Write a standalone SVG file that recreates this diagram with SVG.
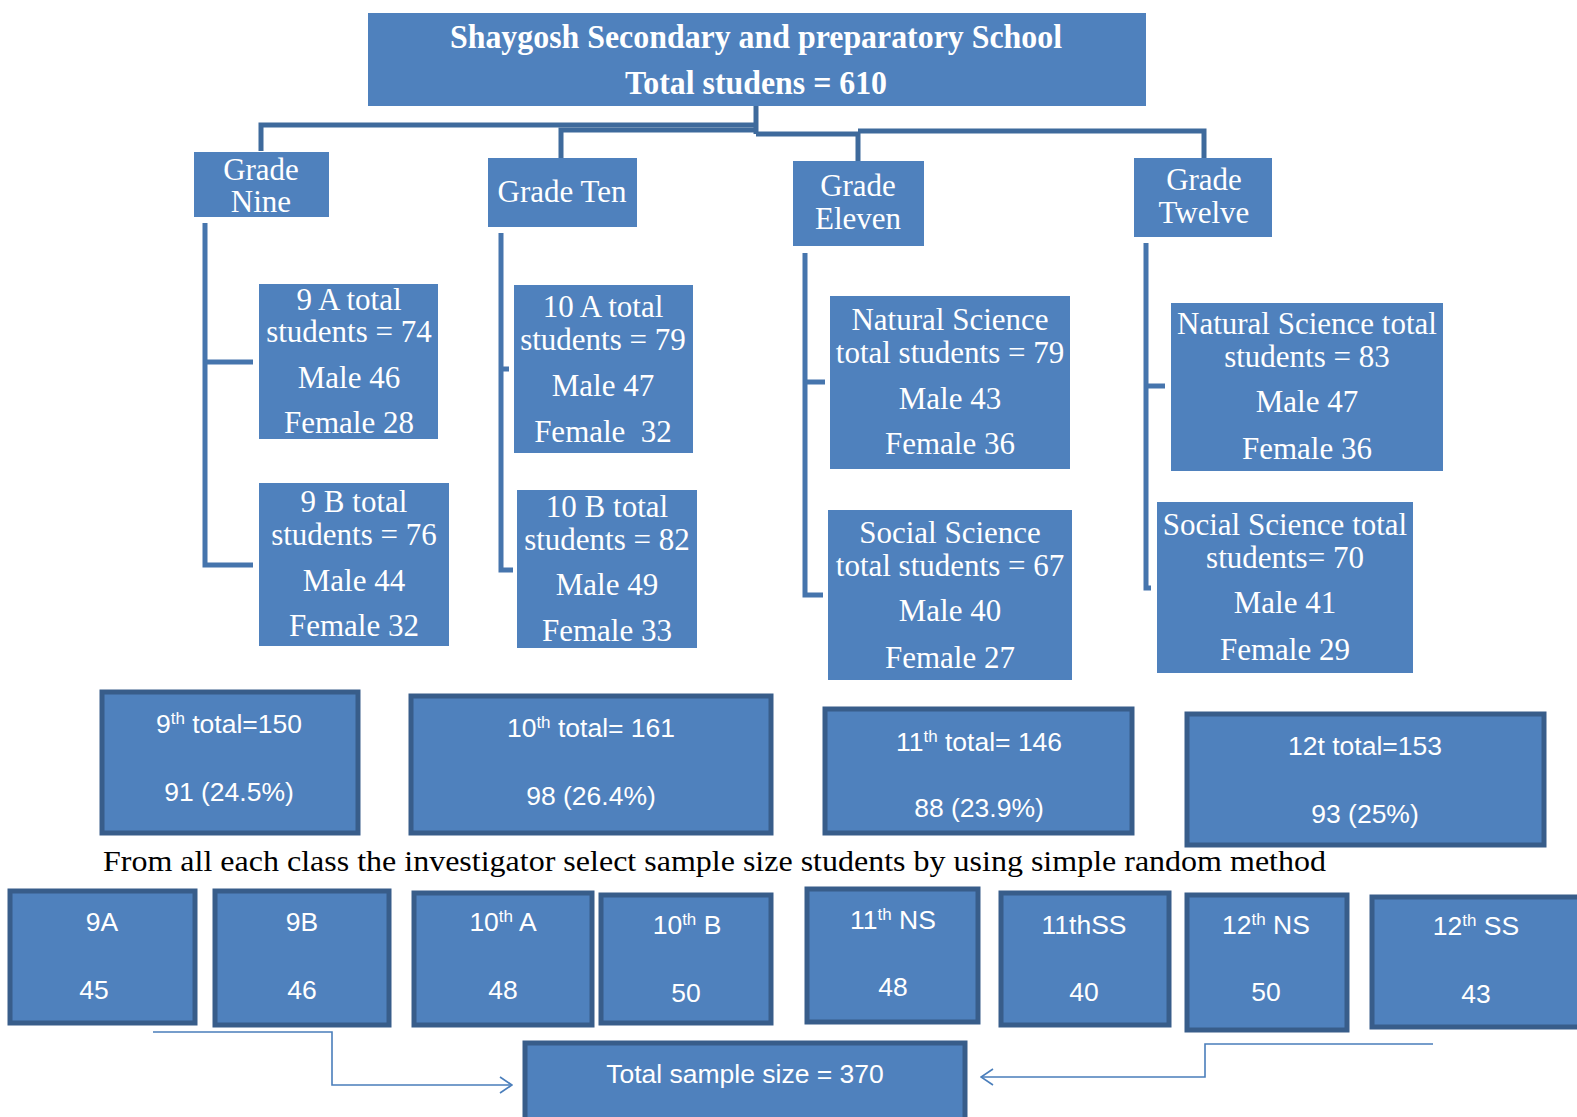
<svg xmlns="http://www.w3.org/2000/svg" width="1577" height="1117" viewBox="0 0 1577 1117">
<style>
.box{fill:#4f81bd;}
.bbox{fill:#4f81bd;stroke:#385d8a;stroke-width:5;}
.ser{font-family:"Liberation Serif","Times New Roman",serif;fill:#fff;font-size:31px;text-anchor:middle;}
.ttl{font-family:"Liberation Serif","Times New Roman",serif;fill:#fff;font-size:33px;font-weight:bold;text-anchor:middle;}
.san{font-family:"Liberation Sans",Arial,sans-serif;fill:#fff;font-size:26.5px;text-anchor:middle;}
.sup{font-size:17px;}
.conn{fill:none;stroke:#3e6a9c;stroke-width:5;}
.brk{fill:none;stroke:#4675ad;stroke-width:5;}
.arr{fill:none;stroke:#4a7ebb;stroke-width:1.6;}
.note{font-family:"Liberation Serif","Times New Roman",serif;fill:#000;font-size:30px;}
</style>
<defs>
<marker id="open" markerWidth="14" markerHeight="18" refX="13" refY="9" orient="auto" markerUnits="userSpaceOnUse">
<path d="M1,1 L13,9 L1,17" fill="none" stroke="#4a7ebb" stroke-width="1.6"/>
</marker>
</defs>
<rect width="1577" height="1117" fill="#fff"/>

<g id="connectors">
<path class="conn" d="M756,106 V134"/>
<path class="conn" d="M261,151 V125 H756"/>
<path class="conn" d="M561,158 V130 H756"/>
<path class="conn" d="M756,134 H858 V161"/>
<path class="conn" d="M858,131 H1204 V158"/>
<path class="brk" d="M253,362 H205 M205,223 V565 H253"/>
<path class="brk" d="M509,369 H501 M501,233 V570 H513"/>
<path class="brk" d="M825,382 H805 M805,253 V595 H823"/>
<path class="brk" d="M1165,386 H1146 M1146,243 V588 H1151"/>
<path class="arr" d="M153,1032 H332 V1085 H512" marker-end="url(#open)"/>
<path class="arr" d="M1433,1044 H1205 V1077 H981" marker-end="url(#open)"/>
</g>

<g id="school">
<rect class="box" x="368" y="13" width="778" height="93"/>
<text class="ttl" x="756" y="48" textLength="612" lengthAdjust="spacingAndGlyphs">Shaygosh Secondary and preparatory School</text>
<text class="ttl" x="756" y="94" textLength="262" lengthAdjust="spacingAndGlyphs">Total studens = 610</text>
</g>

<g id="grade-nine">
<rect class="box" x="194" y="152" width="135" height="65"/>
<text class="ser" x="261" y="180">Grade</text>
<text class="ser" x="261" y="212">Nine</text>
</g>
<g id="grade-ten">
<rect class="box" x="488" y="158" width="149" height="69"/>
<text class="ser" x="562" y="202">Grade Ten</text>
</g>
<g id="grade-eleven">
<rect class="box" x="793" y="161" width="131" height="85"/>
<text class="ser" x="858" y="196">Grade</text>
<text class="ser" x="858" y="229">Eleven</text>
</g>
<g id="grade-twelve">
<rect class="box" x="1134" y="158" width="138" height="79"/>
<text class="ser" x="1204" y="190">Grade</text>
<text class="ser" x="1204" y="223">Twelve</text>
</g>

<g id="class-9a">
<rect class="box" x="259" y="284" width="179" height="155"/>
<text class="ser" x="349" y="310">9 A total</text>
<text class="ser" x="349" y="342">students = 74</text>
<text class="ser" x="349" y="388">Male 46</text>
<text class="ser" x="349" y="433">Female 28</text>
</g>
<g id="class-9b">
<rect class="box" x="259" y="483" width="190" height="163"/>
<text class="ser" x="354" y="512">9 B total</text>
<text class="ser" x="354" y="545">students = 76</text>
<text class="ser" x="354" y="591">Male 44</text>
<text class="ser" x="354" y="636">Female 32</text>
</g>
<g id="class-10a">
<rect class="box" x="514" y="285" width="179" height="168"/>
<text class="ser" x="603" y="317">10 A total</text>
<text class="ser" x="603" y="350">students = 79</text>
<text class="ser" x="603" y="396">Male 47</text>
<text class="ser" x="603" y="442" xml:space="preserve">Female  32</text>
</g>
<g id="class-10b">
<rect class="box" x="517" y="490" width="180" height="158"/>
<text class="ser" x="607" y="517">10 B total</text>
<text class="ser" x="607" y="550">students = 82</text>
<text class="ser" x="607" y="595">Male 49</text>
<text class="ser" x="607" y="641">Female 33</text>
</g>
<g id="ns-11">
<rect class="box" x="830" y="296" width="240" height="173"/>
<text class="ser" x="950" y="330">Natural Science</text>
<text class="ser" x="950" y="363">total students = 79</text>
<text class="ser" x="950" y="409">Male 43</text>
<text class="ser" x="950" y="454">Female 36</text>
</g>
<g id="ss-11">
<rect class="box" x="828" y="510" width="244" height="170"/>
<text class="ser" x="950" y="543">Social Science</text>
<text class="ser" x="950" y="576">total students = 67</text>
<text class="ser" x="950" y="621">Male 40</text>
<text class="ser" x="950" y="668">Female 27</text>
</g>
<g id="ns-12">
<rect class="box" x="1171" y="303" width="272" height="168"/>
<text class="ser" x="1307" y="334">Natural Science total</text>
<text class="ser" x="1307" y="367">students = 83</text>
<text class="ser" x="1307" y="412">Male 47</text>
<text class="ser" x="1307" y="459">Female 36</text>
</g>
<g id="ss-12">
<rect class="box" x="1157" y="502" width="256" height="171"/>
<text class="ser" x="1285" y="535">Social Science total</text>
<text class="ser" x="1285" y="568">students= 70</text>
<text class="ser" x="1285" y="613">Male 41</text>
<text class="ser" x="1285" y="660">Female 29</text>
</g>

<g id="total-9">
<rect class="bbox" x="102" y="692" width="256" height="141"/>
<text class="san" x="229" y="733">9<tspan class="sup" baseline-shift="super">th</tspan> total=150</text>
<text class="san" x="229" y="801">91 (24.5%)</text>
</g>
<g id="total-10">
<rect class="bbox" x="411" y="696" width="360" height="137"/>
<text class="san" x="591" y="737">10<tspan class="sup" baseline-shift="super">th</tspan> total= 161</text>
<text class="san" x="591" y="805">98 (26.4%)</text>
</g>
<g id="total-11">
<rect class="bbox" x="825" y="709" width="307" height="124"/>
<text class="san" x="979" y="751">11<tspan class="sup" baseline-shift="super">th</tspan> total= 146</text>
<text class="san" x="979" y="817">88 (23.9%)</text>
</g>
<g id="total-12">
<rect class="bbox" x="1187" y="714" width="357" height="131"/>
<text class="san" x="1365" y="755">12t total=153</text>
<text class="san" x="1365" y="823">93 (25%)</text>
</g>

<text class="note" x="103" y="871" textLength="1223" lengthAdjust="spacingAndGlyphs">From all each class the investigator select sample size students by using simple random method</text>

<g id="sample-9a">
<rect class="bbox" x="10" y="891" width="185" height="132"/>
<text class="san" x="102" y="931">9A</text>
<text class="san" x="94" y="999">45</text>
</g>
<g id="sample-9b">
<rect class="bbox" x="215" y="891" width="174" height="134"/>
<text class="san" x="302" y="931">9B</text>
<text class="san" x="302" y="999">46</text>
</g>
<g id="sample-10a">
<rect class="bbox" x="414" y="893" width="178" height="132"/>
<text class="san" x="503" y="931">10<tspan class="sup" baseline-shift="super">th</tspan> A</text>
<text class="san" x="503" y="999">48</text>
</g>
<g id="sample-10b">
<rect class="bbox" x="601" y="895" width="170" height="128"/>
<text class="san" x="687" y="934">10<tspan class="sup" baseline-shift="super">th</tspan> B</text>
<text class="san" x="686" y="1002">50</text>
</g>
<g id="sample-11ns">
<rect class="bbox" x="807" y="889" width="171" height="133"/>
<text class="san" x="893" y="929">11<tspan class="sup" baseline-shift="super">th</tspan> NS</text>
<text class="san" x="893" y="996">48</text>
</g>
<g id="sample-11ss">
<rect class="bbox" x="1001" y="893" width="168" height="132"/>
<text class="san" x="1084" y="934">11thSS</text>
<text class="san" x="1084" y="1001">40</text>
</g>
<g id="sample-12ns">
<rect class="bbox" x="1187" y="895" width="160" height="135"/>
<text class="san" x="1266" y="934">12<tspan class="sup" baseline-shift="super">th</tspan> NS</text>
<text class="san" x="1266" y="1001">50</text>
</g>
<g id="sample-12ss">
<rect class="bbox" x="1372" y="897" width="220" height="130"/>
<text class="san" x="1476" y="935">12<tspan class="sup" baseline-shift="super">th</tspan> SS</text>
<text class="san" x="1476" y="1003">43</text>
</g>

<g id="total-sample">
<rect class="bbox" x="525" y="1043" width="440" height="90"/>
<text class="san" x="745" y="1083">Total sample size = 370</text>
</g>
</svg>
